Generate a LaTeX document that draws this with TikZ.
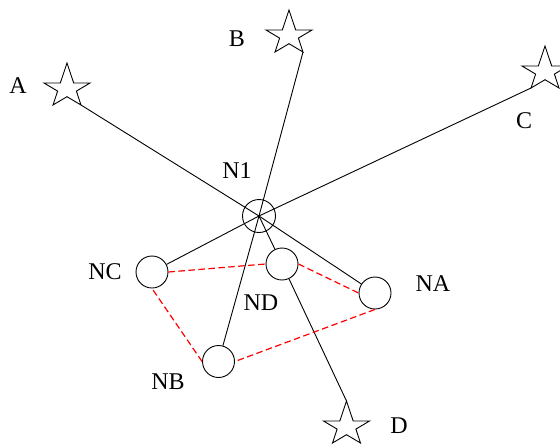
\documentclass[tikz,border=0pt]{standalone}
\usepackage{fontspec}
\setmainfont{Liberation Serif}
\begin{document}
\begin{tikzpicture}[x=1pt,y=-1pt,
  blk/.style={draw=black, line width=0.9pt},
  reddash/.style={draw=red, line width=1.2pt, dash pattern=on 6.5pt off 3.5pt},
  nodecirc/.style={circle, draw=black, line width=0.9pt, minimum size=32pt, inner sep=0pt},
  lbl/.style={inner sep=0pt, font=\fontsize{24}{28}\selectfont},
  starpic/.pic={
    \draw[line width=0.9pt, line join=miter] (0,-20) -- (6.7,0) -- (23,0) -- (9.4,8.1) -- (14,22) -- (0,13.7) -- (-14,22) -- (-9.4,8.1) -- (-23,0) -- (-6.7,0) -- cycle;
    \coordinate (-top) at (0,-20);
    \coordinate (-br) at (14,22);
    \coordinate (-bl) at (-14,22);
  }]
\useasboundingbox (0,0) rectangle (560,445);
\clip (0,0) rectangle (560,445);
% stars
\pic (A) at (67,83) {starpic};
\pic (B) at (289,30) {starpic};
\pic (C) at (545,66) {starpic};
\pic (D) at (346.5,421) {starpic};
% nodes
\node[nodecirc, minimum size=33pt] (N1) at (259,216) {};
\node[nodecirc] (NC) at (152,272) {};
\node[nodecirc] (ND) at (282,264) {};
\node[nodecirc] (NA) at (375,293) {};
\node[nodecirc] (NB) at (218.5,361.5) {};
% labels
\node[lbl] (lA) at (18,86) {A};
\node[lbl] (lB) at (237,39) {B};
\node[lbl] (lC) at (524,121) {C};
\node[lbl] (lD) at (399,426) {D};
\node[lbl] (lN1) at (237,171) {N1};
\node[lbl] (lNC) at (105,272) {NC};
\node[lbl] (lND) at (261,303) {ND};
\node[lbl] (lNA) at (433,284) {NA};
\node[lbl] (lNB) at (168,382) {NB};
% black connectors
\draw[blk] (A-br) -- (N1.center) -- (NA);
\draw[blk] (B-br) -- (N1.center) -- (NB);
\draw[blk] (C-bl) -- (N1.center) -- (NC);
\draw[blk] (N1.center) -- (ND);
\draw[blk] (ND) -- (D-top);
% red dashed connectors
\draw[reddash] (NC.east) -- (ND.west);
\draw[reddash] (ND.east) -- (NA.west);
\draw[reddash] (NA.south) -- (NB.east);
\draw[reddash] (NB.west) -- (NC.south);
\end{tikzpicture}
\end{document}
